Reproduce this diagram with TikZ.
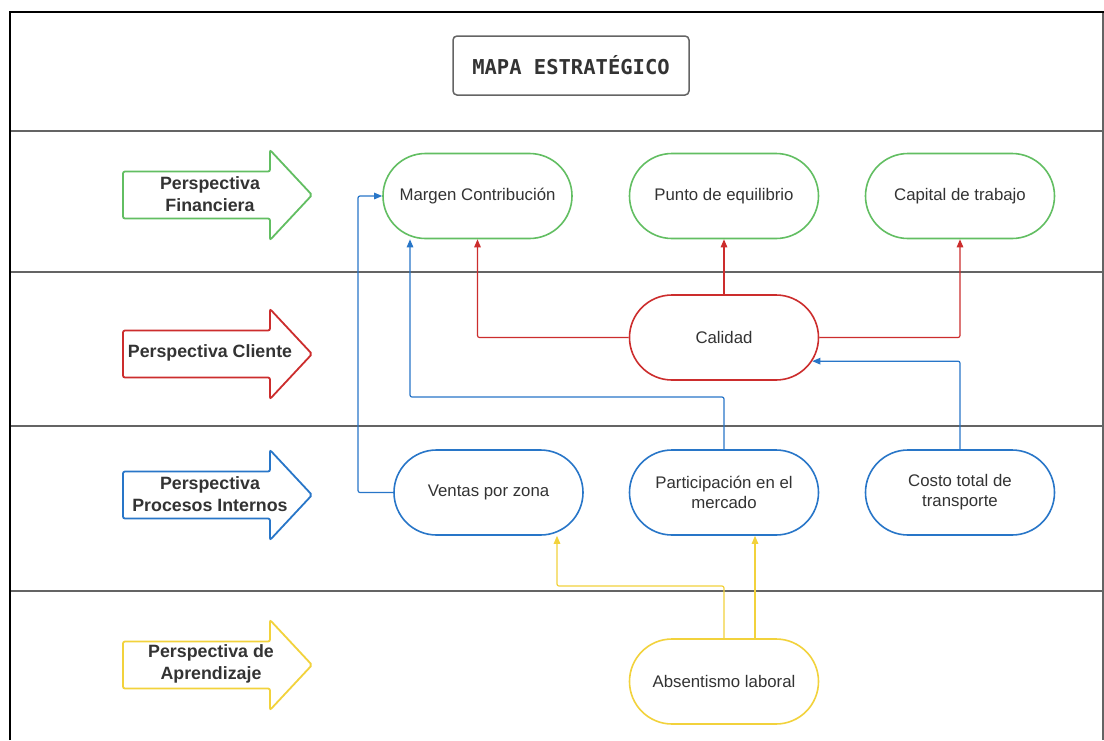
\documentclass[tikz,border=0pt]{standalone}
\usepackage{fontspec}
\setmainfont{Liberation Sans}
\newfontfamily\titlefont{DejaVu Sans Mono}
\usetikzlibrary{shapes.misc,arrows.meta}
\definecolor{cgreen}{RGB}{98,190,98}
\definecolor{cred}{RGB}{204,45,45}
\definecolor{cblue}{RGB}{40,118,200}
\definecolor{cyellow}{RGB}{242,210,60}
\definecolor{ctext}{RGB}{51,51,51}
\definecolor{csep}{RGB}{100,100,100}
\begin{document}
\begin{tikzpicture}[x=1pt,y=-1pt,
  pill/.style={rounded rectangle, draw, line width=1.6pt, minimum width=189pt, minimum height=85pt,
    inner sep=0pt, text=ctext, font=\fontsize{16.8}{20}\selectfont, align=center, fill=white},
  conn/.style={line width=1.2pt, -{Triangle[length=8pt,width=6.5pt]}, rounded corners=2pt},
  bigarrow/.style={line width=1.8pt, rounded corners=2pt, fill=white},
  arrowlabel/.style={text=ctext, font=\bfseries\fontsize{17.8}{22}\selectfont, align=center, inner sep=0pt},
  sep/.style={csep, line width=2pt}]
\useasboundingbox (0,0) rectangle (1104,740);
\fill[white] (0,0) rectangle (1104,740);

% frame
\draw[csep, line width=1.5pt] (1103,12) -- (1103,740);
\draw[black, line width=2pt] (10,740) -- (10,12) -- (1104,12);

% separators
\foreach \yy in {131,272,426,591}
  \draw[sep] (11,\yy) -- (1103,\yy);

% title
\node[draw=csep, line width=1.5pt, rounded corners=4pt, minimum width=236pt, minimum height=59pt,
  font=\titlefont\bfseries\fontsize{20.5}{24}\selectfont, text=ctext] (title) at (571,65.5) {MAPA ESTRATÉGICO};

% big arrows
\foreach \cy/\col in {195/cgreen,354/cred,495/cblue,665/cyellow}
  \draw[bigarrow, draw=\col] (123,\cy-23.5) -- (270,\cy-23.5) -- (270,\cy-45) -- (312,\cy)
     -- (270,\cy+45) -- (270,\cy+23.5) -- (123,\cy+23.5) -- cycle;
\node[arrowlabel] (lfin) at (210,194) {Perspectiva\\Financiera};
\node[arrowlabel] (lcli) at (210,353) {Perspectiva Cliente};
\node[arrowlabel] (lpro) at (210,494) {Perspectiva\\Procesos Internos};
\node[arrowlabel] (lapr) at (211,664) {Perspectiva de\\Aprendizaje};

% nodes
\node[pill, draw=cgreen] (margen) at (477.5,196) {Margen Contribución};
\node[pill, draw=cgreen] (punto) at (724,196) {Punto de equilibrio};
\node[pill, draw=cgreen] (capital) at (960,196) {Capital de trabajo};
\node[pill, draw=cred] (calidad) at (724,337.5) {Calidad};
\node[pill, draw=cblue] (ventas) at (488.5,492.5) {Ventas por zona};
\node[pill, draw=cblue] (partic) at (724,492.5) {Participación en el\\mercado};
\node[pill, draw=cblue] (costo) at (960,492.5) {Costo total de\\transporte};
\node[pill, draw=cyellow] (absent) at (724,681.5) {Absentismo laboral};

% coordinates
\coordinate (b1) at (358,196);
\coordinate (b2) at (410,397);
\coordinate (y1) at (557,586);

% red connectors
\draw[conn, cred] (calidad.west) -| (margen.south);
\draw[conn, cred] (calidad.north) -- (punto.south);
\draw[conn, cred] (calidad.east) -| (capital.south);

% blue connectors
\draw[conn, cblue] (ventas.west) -| (b1) -- (margen.west);
\draw[conn, cblue] (partic.north) |- (b2) -- (b2 |- margen.south);
\draw[conn, cblue] (costo.north) |- (calidad.-15);

% yellow connectors
\draw[conn, cyellow] (absent.north) |- (y1) -- (y1 |- ventas.south);
\draw[conn, cyellow] ([xshift=31pt]absent.north) -- ([xshift=31pt]partic.south);
\end{tikzpicture}
\end{document}
